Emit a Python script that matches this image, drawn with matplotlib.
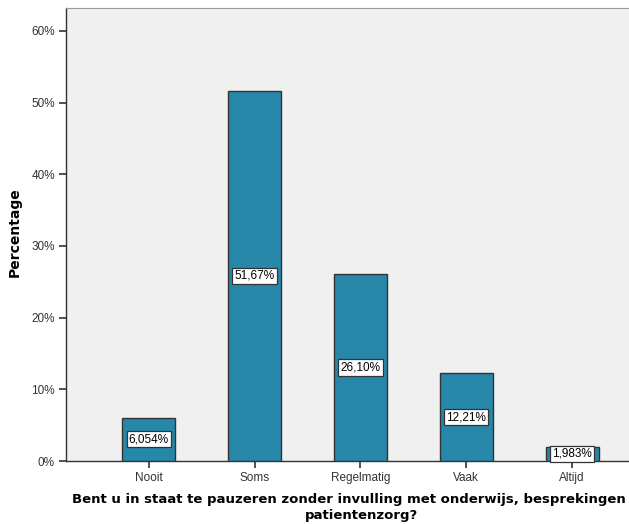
import matplotlib
matplotlib.use("Agg")
import matplotlib.pyplot as plt
from matplotlib.ticker import FuncFormatter

categories = ["Nooit", "Soms", "Regelmatig", "Vaak", "Altijd"]
percentages = [6.054, 51.67, 26.10, 12.21, 1.983]
y_ticks = [0, 10, 20, 30, 40, 50, 60]

BAR = "#2787A8"
EDGE = "#333333"
BG = "#F0F0F0"

fig = plt.figure(figsize=(6.29, 5.24), dpi=100)
# axes run past the right edge of the figure, like the cropped original
ax = fig.add_axes([66 / 629, 63 / 524, 589 / 629, 453 / 524])
ax.set_facecolor(BG)

xs = list(range(len(categories)))
ax.bar(xs, percentages, width=0.5, color=BAR, edgecolor=EDGE, linewidth=1.0,
       zorder=3)

for x, v in zip(xs, percentages):
    txt = (f"{v:.3f}" if v < 10 else f"{v:.2f}").replace(".", ",") + "%"
    ax.text(x, v / 2, txt, ha="center", va="center", fontsize=8.5,
            family="Liberation Sans", color="black", zorder=5,
            bbox=dict(boxstyle="square,pad=0.18", facecolor="white",
                      edgecolor="#333333", linewidth=0.9))

ax.set_xlim(-0.783, 4.783)
ax.set_ylim(0, 63.2)
ax.set_yticks(y_ticks)
ax.yaxis.set_major_formatter(FuncFormatter(lambda v, p: f"{v:.0f}%"))
ax.set_xticks(xs)
ax.set_xticklabels(categories)
for lab in ax.get_xticklabels() + ax.get_yticklabels():
    lab.set_family("Liberation Sans")
    lab.set_fontsize(8.5)
    lab.set_color("#333333")
ax.tick_params(axis="both", direction="out", length=5, width=1.2,
               color="#333333", pad=3)

for side in ["left", "bottom"]:
    ax.spines[side].set_color("#333333")
    ax.spines[side].set_linewidth(1.0)
ax.spines["top"].set_color("#999999")
ax.spines["right"].set_visible(False)

fig.text(15 / 629, 1 - 232 / 524, "Percentage", rotation=90, ha="center",
         va="center", fontsize=10, fontweight="bold", family="DejaVu Sans")
fig.text(72 / 629, 1 - 499 / 524,
         "Bent u in staat te pauzeren zonder invulling met onderwijs, besprekingen",
         ha="left", va="center", fontsize=9.5, fontweight="bold",
         family="DejaVu Sans")
fig.text(362 / 629, 1 - 516 / 524, "patientenzorg?", ha="center", va="center",
         fontsize=9.5, fontweight="bold", family="DejaVu Sans")

fig.savefig("out.png", dpi=100)
